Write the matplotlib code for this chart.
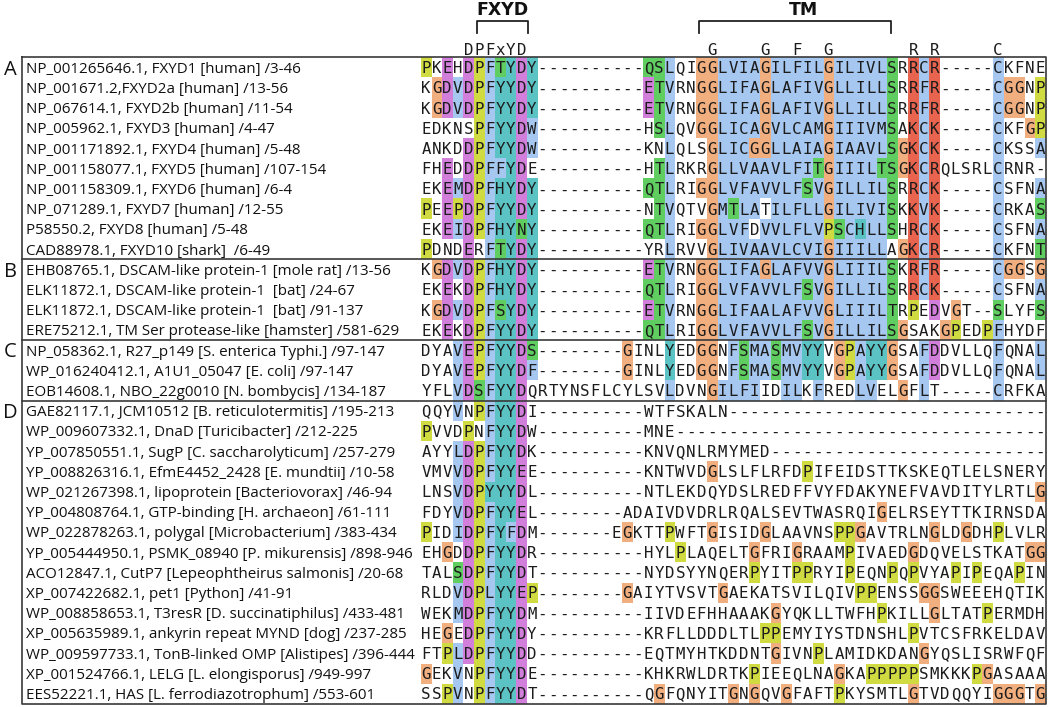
import matplotlib
matplotlib.use("Agg")
import matplotlib.pyplot as plt
import numpy as np
from matplotlib.colors import to_rgb

# ---------------- data ----------------
group_names = ["A", "B", "C", "D"]
group_first_row = [0, 10, 14, 17]

labels = [
    "NP_001265646.1, FXYD1 [human] /3-46",
    "NP_001671.2,FXYD2a [human] /13-56",
    "NP_067614.1, FXYD2b [human] /11-54",
    "NP_005962.1, FXYD3 [human] /4-47",
    "NP_001171892.1, FXYD4 [human] /5-48",
    "NP_001158077.1, FXYD5 [human] /107-154",
    "NP_001158309.1, FXYD6 [human] /6-4",
    "NP_071289.1, FXYD7 [human] /12-55",
    "P58550.2, FXYD8 [human] /5-48",
    "CAD88978.1, FXYD10 [shark]  /6-49",
    "EHB08765.1, DSCAM-like protein-1 [mole rat] /13-56",
    "ELK11872.1, DSCAM-like protein-1  [bat] /24-67",
    "ELK11872.1, DSCAM-like protein-1  [bat] /91-137",
    "ERE75212.1, TM Ser protease-like [hamster] /581-629",
    "NP_058362.1, R27_p149 [S. enterica Typhi.] /97-147",
    "WP_016240412.1, A1U1_05047 [E. coli] /97-147",
    "EOB14608.1, NBO_22g0010 [N. bombycis] /134-187",
    "GAE82117.1, JCM10512 [B. reticulotermitis] /195-213",
    "WP_009607332.1, DnaD [Turicibacter] /212-225",
    "YP_007850551.1, SugP [C. saccharolyticum] /257-279",
    "YP_008826316.1, EfmE4452_2428 [E. mundtii] /10-58",
    "WP_021267398.1, lipoprotein [Bacteriovorax] /46-94",
    "YP_004808764.1, GTP-binding [H. archaeon] /61-111",
    "WP_022878263.1, polygal [Microbacterium] /383-434",
    "YP_005444950.1, PSMK_08940 [P. mikurensis] /898-946",
    "ACO12847.1, CutP7 [Lepeophtheirus salmonis] /20-68",
    "XP_007422682.1, pet1 [Python] /41-91",
    "WP_008858653.1, T3resR [D. succinatiphilus] /433-481",
    "XP_005635989.1, ankyrin repeat MYND [dog] /237-285",
    "WP_009597733.1, TonB-linked OMP [Alistipes] /396-444",
    "XP_001524766.1, LELG [L. elongisporus] /949-997",
    "EES52221.1, HAS [L. ferrodiazotrophum] /553-601",
]

sequences = [
    "PKEHDPFTYDY----------QSLQIGGLVIAGILFILGILIVLSRRCR-----CKFNE",
    "KGDVDPFYYDY----------ETVRNGGLIFAGLAFIVGLLILLSRRFR-----CGGNP",
    "KGDVDPFYYDY----------ETVRNGGLIFAGLAFIVGLLILLSRRFR-----CGGNP",
    "EDKNSPFYYDW----------HSLQVGGLICAGVLCAMGIIIVMSAKCK-----CKFGP",
    "ANKDDPFYYDW----------KNLQLSGLICGGLLAIAGIAAVLSGKCK-----CKSSA",
    "FHEDDPFFYDE----------HTLRKRGLLVAAVLFITGIIILTSGKCRQLSRLCRNR-",
    "EKEMDPFHYDY----------QTLRIGGLVFAVVLFSVGILLILSRRCK-----CSFNA",
    "PEEPDPFYYDY----------NTVQTVGMTLATILFLLGILIVISKKVK-----CRKAS",
    "EKEIDPFHYNY----------QTLRIGGLVFDVVLFLVPSCHLLSHRCK-----CSFNA",
    "PDNDERFTYDY----------YRLRVVGLIVAAVLCVIGIIILLAGKCR-----CKFNT",
    "KGDVDPFHYDY----------ETVRNGGLIFAGLAFVVGLIIILSKRFR-----CGGSG",
    "EKEKDPFHYDY----------QTLRIGGLVFAVVLFSVGILLILSRRCK-----CSFNA",
    "KGDVDPFSYDY----------ETVRNGGLIFAALAFVVGLIIILTRPEDVGT--SLYFS",
    "EKEKDPFYYDY----------QTLRIGGLVFAVVLFSVGILLILSGSAKGPEDPFHYDF",
    "DYAVEPFYYDS--------GINLYEDGGNFSMASMVYYVGPAYYGSAFDDVLLQFQNAL",
    "DYAVEPFYYDF--------GINLYEDGGNFSMASMVYYVGPAYYGSAFDDVLLQFQNAL",
    "YFLVDSFYYDQRTYNSFLCYLSVLDVNGILFIIDILKFREDLVELGFLT-----CRFKA",
    "QQYVNPFYYDI----------WTFSKALN",
    "PVVDPNFYYDW----------MNE",
    "AYYLDPFYYDK----------KNVQNLRMYMED",
    "VMVVDPFYYEE----------KNTWVDGLSLFLRFDPIFEIDSTTKSKEQTLELSNERY",
    "LNSVDPYYYDL----------NTLEKDQYDSLREDFFVYFDAKYNEFVAVDITYLRTLG",
    "FDYVDPFYYEL--------ADAIVDVDRLRQALSEVTWASRQIGELRSEYTTKIRNSDA",
    "PIDIDPFYFDM-------EGKTTPWFTGISIDGLAAVNSPPGAVTRLNGLDGDHPLVLR",
    "EHGDDPFYYDR----------HYLPLAQELTGFRIGRAAMPIVAEDGDQVELSTKATGG",
    "TALSDPFYYDT----------NYDSYYNQERPYITPPRYIPEQNPQPVYAPIPEQAPIN",
    "RLDVDPLYYEP--------GAIYTVSVTGAEKATSVILQIVPPENSSGGSWEEEHQTIK",
    "WEKMDPFYYDM----------IIVDEFHHAAAKGYQKLLTWFHPKILLGLTATPERMDH",
    "HEGEDPFYYDY----------KRFLLDDDLTLPPEMYIYSTDNSHLPVTCSFRKELDAV",
    "FTPLDPFYYDD----------EQTMYHTKDDNTGIVNPLAMIDKDANGYQSLISRWFQF",
    "GEKVNPFYYDE----------KHKRWLDRTKPIEEQLNAGKAPPPPPSMKKKPGASAAA",
    "SSPVNPFYYDT----------QGFQNYITGNGQVGFAFTPKYSMTLGTVDQQYIGGGTG",
]

# ClustalX-style shading
# b=blue, g=green, m=magenta, r=red, o=orange, y=yellow, c=cyan, .=none
shading = [
    "y.m.mybgcmc" ".........." "ggb..oobbbbobbbbbobbbbbg" ".rbr.....b....",
    ".ombmybccmc" ".........." "mgb..oobbbbobbbbbobbbbbg" ".rbr.....boo.y",
    ".ombmybccmc" ".........." "mgb..oobbbbobbbbbobbbbbg" ".rbr.....boo.y",
    ".....ybccmb" ".........." ".gb..oobbbbobbbbbobbbbbg" ".rbr.....b..oy",
    "....mybccmb" ".........." "..b...obbboobbbbbobbbbbg" "orbr.....b...b",
    "..m.mybbcm." ".........." ".gb...obbbbbbbbbgobbbbgg" "orbr.....b....",
    "..mbmybccmc" ".........." "ggb..oobbbbbbbbgbobbbbbg" ".rbr.....b...b",
    "y.mymybccmc" ".........." ".gb...obgbb.bbbbbobbbbbg" ".rbr.....b...g",
    "..mbmybccgc" ".........." "ggb..oobbb.bbbbbbygbcbbg" ".rbr.....b...b",
    "y...m.bgcmc" ".........." "..b...obbbbbbbbbbobbbbb." "orbr.....b...g",
    ".ombmybccmc" ".........." "mgb..oobbbbobbbbbobbbbbg" ".rbr.....boo.o",
    "..m.mybccmc" ".........." "ggb..oobbbbbbbbgbobbbbbg" ".rbr.....b...b",
    ".ombmybgcmc" ".........." "mgb..oobbbbbbbbbbobbbbbg" ".y.m.o...g...g",
    "..m.mybccmc" ".........." "ggb..oobbbbbbbbgbobbbbbg" "o...oy..yb....",
    "...bmybccmg" "........o." "..c..oo.bgbbgbbcc.oybcco" "..bm.....b...b",
    "...bmybccmb" "........o." "..c..oo.bgbbgbbcc.oybcco" "..bm.....b...b",
    "...bmgbccm." ".........." "..b...obbbb..bb.b...bb.." "o.b......b....",
    "...b.ybccm.",
    "y...y.bccm.",
    "...bmybccm.",
    "...bmybccm.",
    "...bmycccm.",
    "...bmybccm.",
    "y..bmybcbm.",
    "..o.mybccm.",
    "...gmybccm.",
    "...bmybccmy",
    "...bmybccm.",
    "..o.mybccm.",
    "..ybmybccm.",
    "o..b.ybccm.",
    "..yb.ybccm.",
]

palette = {
    "b": "#a6c7ef", "g": "#5fcd5f", "m": "#d27fdc", "r": "#e9644e",
    "o": "#f1ae7e", "y": "#cfdb40", "c": "#5cc3c5", ".": "#ffffff",
}

motif_marks = [(4, "D"), (5, "P"), (6, "F"), (7, "x"), (8, "Y"), (9, "D"),
               (27, "G"), (32, "G"), (35, "F"), (38, "G"),
               (46, "R"), (48, "R"), (54, "C")]
brackets = [("FXYD", 4.8, 9.6, 7.2), ("TM", 25.8, 43.9, 35.6)]

# ---------------- layout ----------------
W, H = 1050, 707
col0_px, col_w = 426.0, 10.59
row0_px, row_h = 67.3, 20.2
n_rows, n_cols = len(sequences), 59

fig = plt.figure(figsize=(W / 100, H / 100), dpi=100)
left_px = col0_px - 0.5 * col_w
right_px = col0_px + (n_cols - 0.5) * col_w
top_px = row0_px - 0.5 * row_h
bot_px = row0_px + (n_rows - 0.5) * row_h
ax = fig.add_axes([left_px / W, 1 - bot_px / H,
                   (right_px - left_px) / W, (bot_px - top_px) / H])
ax.set_xlim(-0.5, n_cols - 0.5)
ax.set_ylim(n_rows - 0.5, -0.5)
ax.axis("off")


def px_to_col(x):
    return (x - col0_px) / col_w


def px_to_row(y):
    return (y - row0_px) / row_h


seqs = [s.ljust(n_cols, "-") for s in sequences]
shade = [s.ljust(n_cols, ".") for s in shading]

img = np.ones((n_rows, n_cols, 3))
for r in range(n_rows):
    for c in range(n_cols):
        ch = seqs[r][c]
        code = shade[r][c]
        if ch == "G":
            code = "o"
        elif ch == "P":
            code = "y"
        img[r, c] = to_rgb(palette[code])
ax.imshow(img, extent=(-0.5, n_cols - 0.5, n_rows - 0.5, -0.5),
          aspect="auto", interpolation="nearest", zorder=0)

seq_font = dict(family="DejaVu Sans Mono", fontsize=11.3, color="#1c1c1c")
for r, s in enumerate(seqs):
    for c, ch in enumerate(s):
        ax.text(c, r + 0.29, ch, ha="center", va="baseline", **seq_font)

# labels
lab_x = px_to_col(26)
for r, lab in enumerate(labels):
    ax.text(lab_x, r + 0.27, lab, ha="left", va="baseline",
            family="Open Sans", fontsize=10.9, color="#111111", clip_on=False)

# group letters
for g, r in zip(group_names, group_first_row):
    ax.text(px_to_col(10), r + 0.36, g, ha="center", va="baseline",
            family="Open Sans", fontsize=14.5, color="#111111", clip_on=False)

# frame and separators
box_l = px_to_col(22)
lw = 1.2
line_col = "#3a3a3a"
ax.plot([box_l, n_cols - 0.5, n_cols - 0.5, box_l, box_l],
        [-0.5, -0.5, n_rows - 0.5, n_rows - 0.5, -0.5],
        color=line_col, lw=lw, clip_on=False, zorder=5)
for r in group_first_row[1:]:
    ax.plot([box_l, n_cols - 0.5], [r - 0.5, r - 0.5], color=line_col,
            lw=lw, clip_on=False, zorder=5)

# header
y_lab = px_to_row(10)
y_br_top = px_to_row(21)
y_br_bot = px_to_row(32.5)
for name, x0, x1, xt in brackets:
    ax.plot([x0, x0, x1, x1], [y_br_bot, y_br_top, y_br_top, y_br_bot],
            color="#222222", lw=1.3, clip_on=False)
    ax.text(xt, y_lab, name, ha="center", va="center", family="DejaVu Sans",
            fontweight="bold", fontsize=12.5, color="#111111", clip_on=False)
for c, ch in motif_marks:
    ax.text(c, px_to_row(54.5), ch, ha="center", va="baseline",
            clip_on=False, **seq_font)

fig.savefig("out.png", dpi=100)
